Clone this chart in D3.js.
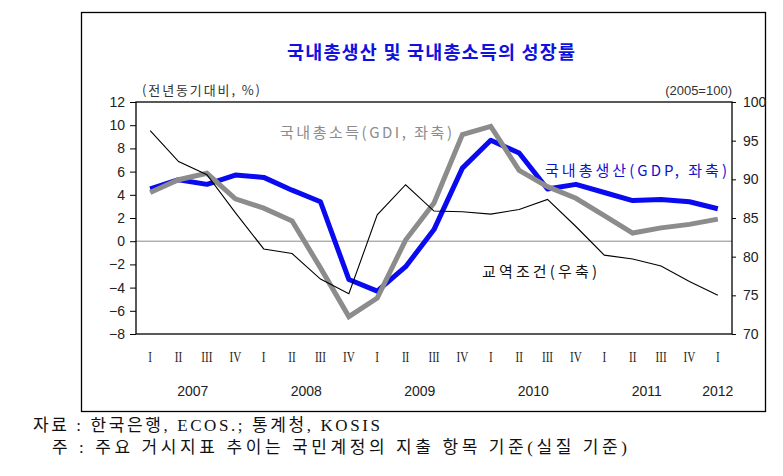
<!DOCTYPE html>
<html>
<head>
<meta charset="utf-8">
<script src="https://cdn.jsdelivr.net/npm/d3@7"></script>
<style>
  html, body { margin: 0; padding: 0; background: #fff; }
  svg { display: block; }
</style>
</head>
<body>
<svg id="chart" width="783" height="476"></svg>
<script>
// ---- data ----
const quarters = ["I","II","III","IV","I","II","III","IV","I","II","III","IV","I","II","III","IV","I","II","III","IV","I"];
const years = ["2007","2007","2007","2007","2008","2008","2008","2008","2009","2009","2009","2009","2010","2010","2010","2010","2011","2011","2011","2011","2012"];
const yearLabels = ["2007","2008","2009","2010","2011","2012"];
const gdp = [4.5, 5.3, 4.9, 5.7, 5.5, 4.4, 3.4, -3.3, -4.3, -2.2, 1.0, 6.3, 8.7, 7.6, 4.5, 4.9, 4.2, 3.5, 3.6, 3.4, 2.8];
const gdi = [4.2, 5.3, 5.85, 3.65, 2.85, 1.75, -2.3, -6.5, -4.9, 0.1, 3.3, 9.2, 9.9, 6.1, 4.7, 3.7, 2.2, 0.7, 1.15, 1.45, 1.9];
const tot = [96.3, 92.3, 90.6, 85.7, 81.0, 80.4, 77.1, 75.2, 85.4, 89.3, 85.9, 85.8, 85.5, 86.1, 87.4, 83.9, 80.2, 79.7, 78.8, 76.8, 75.0];
const leftTicks = [12, 10, 8, 6, 4, 2, 0, -2, -4, -6, -8];
const rightTicks = [100, 95, 90, 85, 80, 75, 70];

const title = "국내총생산 및 국내총소득의 성장률";
const leftUnit = "(전년동기대비, %)";
const rightUnit = "(2005=100)";
const labelGDI = "국내총소득(GDI, 좌축)";
const labelGDP = "국내총생산(GDP, 좌축)";
const labelTOT = "교역조건(우축)";
const note1 = "자료 : 한국은행, ECOS.; 통계청, KOSIS";
const note2 = "주 : 주요 거시지표 추이는 국민계정의 지출 항목 기준(실질 기준)";

// ---- layout ----
const svg = d3.select("#chart");
const L = 136, R = 732, T = 102, B = 334;
const KR = "'Noto Sans CJK KR', 'Noto Sans', sans-serif";
const NUM = "'Liberation Sans', Arial, sans-serif";

const idx = d3.range(quarters.length);
const x = d3.scalePoint().domain(idx).range([L, R]).padding(0.5);
const yL = d3.scaleLinear().domain([-8, 12]).range([B, T]);
const yR = d3.scaleLinear().domain([70, 100]).range([B, T]);

// outer frame
svg.append("rect").attr("x", 81.5).attr("y", 12.5).attr("width", 684).attr("height", 399)
  .attr("fill", "none").attr("stroke", "#000").attr("stroke-width", 1.3);

// title
svg.append("text").attr("x", 431).attr("y", 59).attr("text-anchor", "middle")
  .attr("font-family", KR).attr("font-weight", "bold").attr("font-size", 18.5)
  .attr("fill", "#1010e0").attr("textLength", 288).attr("lengthAdjust", "spacing")
  .text(title);

// unit labels
svg.append("text").attr("x", 142).attr("y", 95).attr("font-family", KR).attr("font-size", 13)
  .attr("fill", "#333").attr("textLength", 118).attr("lengthAdjust", "spacing").text(leftUnit);
svg.append("text").attr("x", 732).attr("y", 95).attr("text-anchor", "end").attr("font-family", NUM)
  .attr("font-size", 13).attr("fill", "#333").text(rightUnit);

// zero line
svg.append("line").attr("x1", L).attr("x2", R).attr("y1", yL(0)).attr("y2", yL(0))
  .attr("stroke", "#8a8a8a").attr("stroke-width", 1);

// axes
const axL = svg.append("g").attr("transform", `translate(${L},0)`)
  .call(d3.axisLeft(yL).tickValues(leftTicks).tickSize(6).tickPadding(5).tickFormat(d3.format("d")));
const axR = svg.append("g").attr("transform", `translate(${R},0)`)
  .call(d3.axisRight(yR).tickValues(rightTicks).tickSize(4).tickPadding(7).tickFormat(d3.format("d")));
[axL, axR].forEach(a => {
  a.select(".domain").remove();
  a.selectAll("text").attr("font-family", NUM).attr("font-size", 14).attr("fill", "#222");
  a.selectAll("line").attr("stroke", "#000");
});

// plot border
svg.append("rect").attr("x", L).attr("y", T).attr("width", R - L).attr("height", B - T)
  .attr("fill", "none").attr("stroke", "#000").attr("stroke-width", 1.3);

// x labels
svg.append("g").selectAll("text").data(idx).join("text")
  .attr("x", d => x(d)).attr("y", 362).attr("text-anchor", "middle")
  .attr("font-family", "'Liberation Serif', serif").attr("font-size", 14).attr("fill", "#222")
  .attr("transform", d => `translate(${x(d)},362) scale(0.8,1.0) translate(${-x(d)},-362)`)
  .text(d => quarters[d]);

const yearPos = yearLabels.map(yl => {
  const ii = idx.filter(i => years[i] === yl);
  return { label: yl, x: d3.mean(ii, i => x(i)) };
});
svg.append("g").selectAll("text").data(yearPos).join("text")
  .attr("x", d => d.x).attr("y", 396).attr("text-anchor", "middle")
  .attr("font-family", NUM).attr("font-size", 14).attr("fill", "#222")
  .text(d => d.label);

// lines
const lineL = d3.line().x((d, i) => x(i)).y(d => yL(d));
const lineR = d3.line().x((d, i) => x(i)).y(d => yR(d));

svg.append("path").datum(gdp).attr("d", lineL).attr("fill", "none")
  .attr("stroke", "#0a0af0").attr("stroke-width", 5).attr("stroke-linejoin", "round");
svg.append("path").datum(gdi).attr("d", lineL).attr("fill", "none")
  .attr("stroke", "#8c8c8c").attr("stroke-width", 5).attr("stroke-linejoin", "miter");
svg.append("path").datum(tot).attr("d", lineR).attr("fill", "none")
  .attr("stroke", "#000").attr("stroke-width", 1.1);

// series labels
svg.append("text").attr("x", 280).attr("y", 138).attr("font-family", KR).attr("font-size", 15)
  .attr("fill", "#8c8c8c").attr("textLength", 172).attr("lengthAdjust", "spacing").text(labelGDI);
svg.append("text").attr("x", 545).attr("y", 176).attr("font-family", KR).attr("font-size", 15)
  .attr("fill", "#1010d0").attr("textLength", 182).attr("lengthAdjust", "spacing").text(labelGDP);
svg.append("text").attr("x", 482).attr("y", 277).attr("font-family", KR).attr("font-size", 15)
  .attr("fill", "#111").attr("textLength", 115).attr("lengthAdjust", "spacing").text(labelTOT);

// notes
svg.append("text").attr("x", 33).attr("y", 431).attr("font-family", "'Liberation Serif', " + KR)
  .attr("font-size", 17).attr("fill", "#111").attr("textLength", 347).attr("lengthAdjust", "spacing").text(note1);
svg.append("text").attr("x", 52).attr("y", 453).attr("font-family", "'Liberation Serif', " + KR)
  .attr("font-size", 17).attr("fill", "#111").attr("textLength", 575).attr("lengthAdjust", "spacing").text(note2);
</script>
</body>
</html>
